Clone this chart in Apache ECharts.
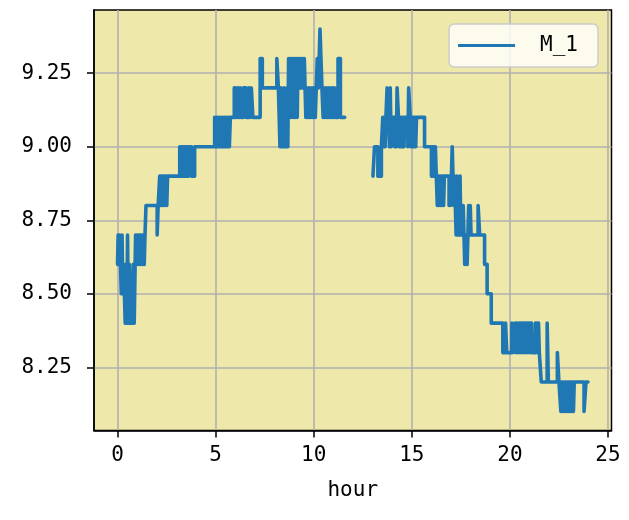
<!DOCTYPE html>
<html>
<head>
<meta charset="utf-8">
<script src="https://cdn.jsdelivr.net/npm/echarts@6/dist/echarts.min.js"></script>
<style>
  html, body { margin: 0; padding: 0; background: #fff; }
  #chart { width: 629px; height: 520px; }
</style>
</head>
<body>
<div id="chart"></div>
<script>
// tick labels
const xTicks = [0, 5, 10, 15, 20, 25]
const yTicks = [8.25, 8.5, 8.75, 9.0, 9.25]

// M_1 readings, [hour, value]
const earlyHours = [
  [0.00, 8.6], [0.03, 8.7], [0.07, 8.6], [0.11, 8.7], [0.15, 8.6], [0.19, 8.5], [0.23, 8.7],
  [0.27, 8.5], [0.31, 8.6], [0.35, 8.5], [0.39, 8.4], [0.43, 8.6], [0.47, 8.4], [0.51, 8.7],
  [0.55, 8.4], [0.60, 8.6], [0.65, 8.4], [0.70, 8.5], [0.75, 8.4], [0.80, 8.6], [0.85, 8.4],
  [0.92, 8.7], [0.96, 8.6], [1.00, 8.7], [1.04, 8.6], [1.08, 8.7], [1.12, 8.6], [1.16, 8.7],
  [1.20, 8.6], [1.24, 8.7], [1.28, 8.6], [1.32, 8.7], [1.36, 8.6], [1.40, 8.7], [1.45, 8.8],
  [2.02, 8.7], [2.07, 8.8], [2.15, 8.9], [2.19, 8.8], [2.23, 8.9], [2.27, 8.8], [2.31, 8.9],
  [2.35, 8.8], [2.39, 8.9], [2.43, 8.8], [2.47, 8.9], [2.51, 8.8], [2.55, 8.9],
  [3.17, 9.0], [3.21, 8.9], [3.25, 9.0], [3.29, 8.9], [3.33, 9.0], [3.37, 8.9], [3.41, 9.0],
  [3.45, 8.9], [3.49, 9.0], [3.53, 8.9], [3.57, 9.0], [3.61, 8.9], [3.66, 9.0], [3.77, 8.9],
  [3.93, 9.0]
]
const morning = [
  [4.95, 9.1], [5.00, 9.0], [5.05, 9.1], [5.10, 9.0], [5.15, 9.1], [5.20, 9.0], [5.25, 9.1],
  [5.30, 9.0], [5.35, 9.1], [5.40, 9.0], [5.45, 9.1], [5.50, 9.0], [5.55, 9.1], [5.60, 9.0],
  [5.65, 9.1], [5.70, 9.0], [5.75, 9.1], [5.80, 9.1],
  [5.95, 9.2], [5.99, 9.1], [6.03, 9.2], [6.07, 9.1], [6.11, 9.2], [6.15, 9.1], [6.19, 9.2],
  [6.23, 9.1], [6.27, 9.2], [6.31, 9.1], [6.42, 9.2], [6.55, 9.1], [6.70, 9.2], [6.76, 9.1],
  [6.82, 9.2], [6.90, 9.1], [7.27, 9.3], [7.38, 9.2], [7.45, null], [7.55, 9.2],
  [8.12, 9.3], [8.20, 9.2], [8.28, 9.0], [8.32, 9.2], [8.36, 9.0], [8.40, 9.1], [8.44, 9.0],
  [8.48, 9.2], [8.52, 9.0], [8.56, 9.1], [8.60, 9.0], [8.64, 9.2], [8.68, 9.0], [8.72, 9.3],
  [8.76, 9.1], [8.80, 9.3], [8.84, 9.1], [8.88, 9.3], [8.92, 9.1], [8.96, 9.3], [9.00, 9.1],
  [9.04, 9.3], [9.08, 9.1], [9.12, 9.3], [9.16, 9.1], [9.20, 9.3], [9.24, 9.2], [9.28, 9.3],
  [9.32, 9.2], [9.36, 9.3], [9.40, 9.2], [9.44, 9.3], [9.48, 9.2], [9.52, 9.3], [9.56, 9.2],
  [9.60, 9.1], [9.64, 9.2], [9.68, 9.1], [9.72, 9.2], [9.76, 9.1], [9.80, 9.2], [9.84, 9.1],
  [9.88, 9.2], [9.92, 9.1], [9.96, 9.2], [10.00, 9.1], [10.04, 9.2], [10.08, 9.1],
  [10.18, 9.3], [10.24, 9.2], [10.32, 9.4], [10.42, 9.2], [10.48, 9.1], [10.52, 9.2],
  [10.56, 9.1], [10.60, 9.2], [10.64, 9.1], [10.68, 9.2], [10.72, 9.1], [10.76, 9.2],
  [10.80, 9.1], [10.84, 9.2], [10.88, 9.1], [10.92, 9.2], [10.96, 9.1], [11.00, 9.2],
  [11.04, 9.1], [11.08, 9.2], [11.12, 9.1], [11.24, 9.3], [11.36, 9.1], [11.58, 9.1],
  [11.59, null]
]
const afternoon = [
  [13.02, 8.9], [13.10, 9.0], [13.27, 8.9], [13.45, 9.0], [13.52, 9.1], [13.56, 9.0],
  [13.60, 9.1], [13.64, 9.0], [13.68, 9.1], [13.74, 9.2], [13.82, 9.1], [13.86, 9.0],
  [13.90, 9.2], [13.95, 9.0], [14.00, 9.1], [14.13, 9.0], [14.17, 9.1], [14.21, 9.0],
  [14.25, 9.2], [14.32, 9.1], [14.36, 9.0], [14.40, 9.1], [14.44, 9.0], [14.48, 9.1],
  [14.52, 9.0], [14.56, 9.1], [14.60, 9.0], [14.64, 9.1], [14.80, 9.0], [14.84, 9.2],
  [14.92, 9.1], [14.96, 9.0], [15.00, 9.1], [15.04, 9.0], [15.08, 9.1], [15.12, 9.0],
  [15.16, 9.1], [15.20, 9.0], [15.24, 9.1], [15.65, 9.0],
  [16.00, 8.9], [16.04, 9.0], [16.08, 8.9], [16.12, 9.0], [16.16, 8.9], [16.20, 9.0],
  [16.25, 8.9], [16.30, 8.8], [16.34, 8.9], [16.38, 8.8], [16.42, 8.9], [16.46, 8.8],
  [16.50, 8.9], [16.54, 8.8], [16.58, 8.9], [16.62, 8.8], [16.66, 8.9],
  [16.90, 8.8], [16.94, 8.9], [16.98, 8.8], [17.02, 8.9], [17.06, 9.0], [17.14, 8.8],
  [17.18, 8.9], [17.22, 8.8], [17.26, 8.7], [17.30, 8.9], [17.34, 8.7], [17.38, 8.8],
  [17.42, 8.7], [17.46, 8.9], [17.50, 8.7], [17.54, 8.8], [17.58, 8.7], [17.62, 8.8],
  [17.70, 8.6], [17.78, 8.7], [17.82, 8.6], [17.90, 8.8], [17.94, 8.7], [17.98, 8.8],
  [18.02, 8.7], [18.38, 8.8], [18.46, 8.7], [18.71, 8.6], [18.84, 8.5]
]
const evening = [
  [19.05, 8.4], [19.64, 8.3], [19.78, 8.4], [19.84, 8.3], [20.10, 8.4], [20.16, 8.3],
  [20.26, 8.4], [20.30, 8.3], [20.36, 8.4], [20.40, 8.3], [20.46, 8.4], [20.50, 8.3],
  [20.54, 8.4], [20.58, 8.3], [20.62, 8.4], [20.66, 8.3], [20.70, 8.4], [20.74, 8.3],
  [20.78, 8.4], [20.82, 8.3], [20.86, 8.4], [20.90, 8.3], [20.94, 8.4], [20.98, 8.3],
  [21.02, 8.4], [21.06, 8.3], [21.10, 8.4], [21.14, 8.3], [21.30, 8.4], [21.34, 8.3],
  [21.38, 8.4], [21.42, 8.3], [21.46, 8.4], [21.50, 8.3], [21.60, 8.2], [21.90, 8.4],
  [21.96, 8.2], [22.42, 8.3], [22.50, 8.2], [22.60, 8.1], [22.64, 8.2], [22.68, 8.1],
  [22.72, 8.2], [22.76, 8.1], [22.80, 8.2], [22.84, 8.1], [22.88, 8.2], [22.92, 8.1],
  [22.96, 8.2], [23.00, 8.1], [23.04, 8.2], [23.08, 8.1], [23.12, 8.2], [23.16, 8.1],
  [23.20, 8.2], [23.24, 8.1], [23.28, 8.2], [23.78, 8.1], [23.88, 8.2], [23.98, 8.2]
]

const m1 = earlyHours.concat(morning, afternoon, evening)

const font = 'DejaVu Sans Mono'
const chart = echarts.init(document.getElementById('chart'))

chart.setOption({
  animation: false,
  backgroundColor: '#fff',
  grid: {
    left: 94,
    right: 17.5,
    top: 10,
    bottom: 89.5,
    show: true,
    backgroundColor: '#eee8aa',
    borderColor: '#000',
    borderWidth: 1.5
  },
  legend: {
    right: 31,
    top: 24,
    padding: [11, 20, 11, 9],
    backgroundColor: 'rgba(255,255,255,0.8)',
    borderColor: '#cccccc',
    borderWidth: 1.5,
    borderRadius: 5,
    itemWidth: 57,
    itemHeight: 3,
    textStyle: {
      fontFamily: font,
      fontSize: 21,
      color: '#000',
      padding: [0, 0, 0, 20]
    },
    data: [{ name: 'M_1', icon: 'rect' }]
  },
  xAxis: {
    type: 'value',
    min: -1.2,
    max: 25.18,
    name: 'hour',
    nameLocation: 'middle',
    nameGap: 50,
    nameTextStyle: { fontFamily: font, fontSize: 21, color: '#000' },
    axisLine: { show: true, onZero: false, lineStyle: { color: '#000', width: 1.5 } },
    axisTick: { show: true, length: 7, customValues: xTicks, lineStyle: { color: '#000', width: 1.5 } },
    axisLabel: {
      customValues: xTicks,
      margin: 15,
      fontFamily: font,
      fontSize: 21,
      color: '#000'
    },
    splitLine: { show: true, lineStyle: { color: '#b0b0b0', width: 1.6 } }
  },
  yAxis: {
    type: 'value',
    min: 8.035,
    max: 9.465,
    axisLine: { show: true, onZero: false, lineStyle: { color: '#000', width: 1.5 } },
    axisTick: { show: true, length: 7, customValues: yTicks, lineStyle: { color: '#000', width: 1.5 } },
    axisLabel: {
      customValues: yTicks,
      margin: 22,
      fontFamily: font,
      fontSize: 21,
      color: '#000',
      formatter: v => v.toFixed(2)
    },
    splitLine: { show: true, lineStyle: { color: '#b0b0b0', width: 1.6 } }
  },
  series: [
    {
      name: 'M_1',
      type: 'line',
      step: 'end',
      symbol: 'none',
      showSymbol: false,
      connectNulls: false,
      color: '#1f77b4',
      lineStyle: { width: 3.6, color: '#1f77b4', join: 'round', cap: 'round' },
      data: m1
    }
  ]
})
</script>
</body>
</html>
